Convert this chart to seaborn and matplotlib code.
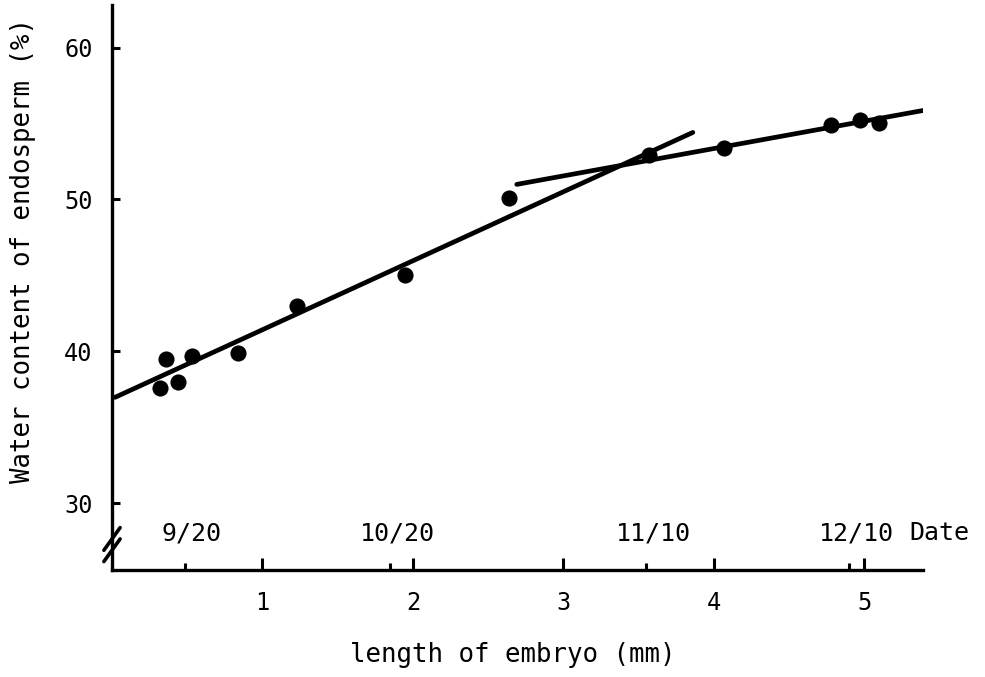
import numpy as np
import pandas as pd
import matplotlib
matplotlib.use("Agg")
import matplotlib.pyplot as plt
import matplotlib.transforms as mtransforms
import seaborn as sns

# --------------------------
# Datos
# --------------------------
embryo_mm = [0.32, 0.36, 0.44, 0.53, 0.84, 1.23, 1.95, 2.64, 3.57, 4.07, 4.78, 4.97, 5.10]
water_pct = [37.6, 39.5, 38.0, 39.7, 39.9, 43.0, 45.0, 50.1, 52.9, 53.4, 54.9, 55.2, 55.0]

# dos rectas ajustadas (extremos)
fit1_x = [0.02, 3.86]
fit1_y = [36.97, 54.41]
fit2_x = [2.69, 5.57]
fit2_y = [50.99, 56.18]

x_ticks = [1, 2, 3, 4, 5]
y_ticks = [30, 40, 50, 60]
date_pos = [0.485, 1.85, 3.55, 4.90]
date_labels = ["9/20", "10/20", "11/10", "12/10"]

df = pd.DataFrame({"embryo": embryo_mm, "water": water_pct})

# --------------------------
# Estilo
# --------------------------
sns.set_theme(style="ticks")
plt.rcParams["font.family"] = ["DejaVu Sans Mono", "DejaVu Sans"]
plt.rcParams["text.color"] = "black"

fig = plt.figure(figsize=(9.85, 6.77), dpi=100)
ax = fig.add_axes([0.1137, 0.158, 0.8234, 0.8346])

sns.scatterplot(data=df, x="embryo", y="water", color="black", s=135,
                edgecolor="black", linewidth=0, ax=ax, zorder=3)
sns.lineplot(x=fit1_x, y=fit1_y, color="black", linewidth=3.4, ax=ax,
             solid_capstyle="round")
sns.lineplot(x=fit2_x, y=fit2_y, color="black", linewidth=3.4, ax=ax,
             solid_capstyle="round")

ax.set_xlim(0, 5.39)
ax.set_ylim(25.6, 62.8)

sns.despine(ax=ax)
for side in ["left", "bottom"]:
    ax.spines[side].set_linewidth(2.4)
    ax.spines[side].set_color("black")

ax.set_xticks(x_ticks)
ax.set_xticklabels([str(v) for v in x_ticks])
ax.set_yticks(y_ticks)
ax.set_yticklabels([str(v) for v in y_ticks])
ax.set_xticks(date_pos, minor=True)

ax.tick_params(axis="x", which="major", direction="in", length=9, width=2.2,
               pad=15, labelsize=17, colors="black")
ax.tick_params(axis="x", which="minor", direction="in", length=5, width=2.2,
               colors="black")
ax.tick_params(axis="y", which="major", direction="in", length=6, width=2.2,
               pad=14, labelsize=17, colors="black")

ax.set_xlabel("")
ax.set_ylabel("")

# etiquetas de fecha sobre el eje x
trans = mtransforms.blended_transform_factory(ax.transData, ax.transAxes)
for pos, lab in zip(date_pos, date_labels):
    ax.annotate(lab, xy=(pos, 0.065), xycoords=trans, xytext=(5, 0),
                textcoords="offset points", ha="center", va="center",
                fontsize=18, color="black")
ax.annotate("Date", xy=(date_pos[-1], 0.065), xycoords=trans, xytext=(43, 0),
            textcoords="offset points", ha="left", va="center",
            fontsize=18, color="black")

# marca de corte en el eje y
d = 0.01
for off in (0.0, 0.02):
    ax.plot([-d, d], [0.035 + off - 2.0 * d, 0.035 + off + 2.0 * d],
            transform=ax.transAxes, color="black", linewidth=2.6,
            clip_on=False)

fig.text(0.0234, 1 - 250 / 677, "Water content of endosperm (%)",
         rotation=90, ha="center", va="center", fontsize=18.5, color="black")
fig.text(0.521, 0.032, "length of embryo (mm)", ha="center", va="center",
         fontsize=18.5, color="black")

fig.savefig("out.png", dpi=100, facecolor="white")
